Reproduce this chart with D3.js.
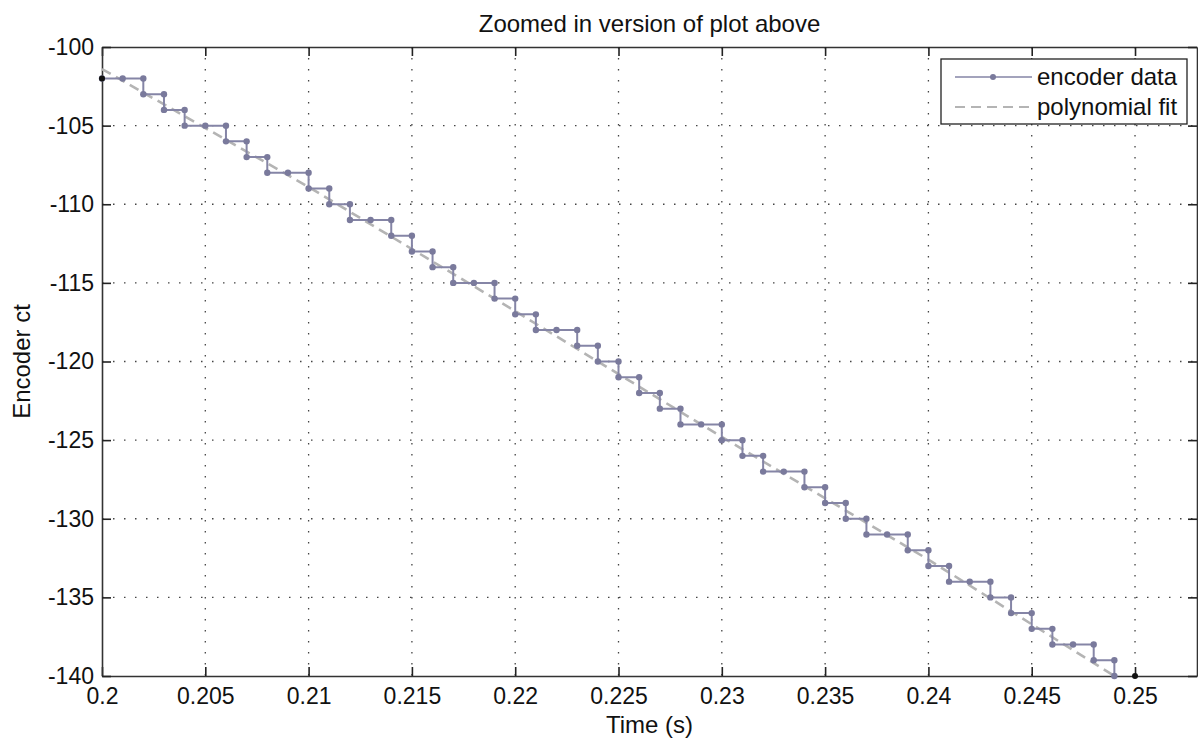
<!DOCTYPE html>
<html>
<head>
<meta charset="utf-8">
<script src="https://cdn.jsdelivr.net/npm/d3@7"></script>
<style>
  body { margin: 0; background: #fff; }
  svg { font-family: "Liberation Sans", Arial, sans-serif; }
</style>
</head>
<body>
<div id="chart"></div>
<script>
// data (one encoder sample per ms)
const times = [0.200, 0.201, 0.202, 0.203, 0.204, 0.205, 0.206, 0.207, 0.208, 0.209,
  0.210, 0.211, 0.212, 0.213, 0.214, 0.215, 0.216, 0.217, 0.218, 0.219,
  0.220, 0.221, 0.222, 0.223, 0.224, 0.225, 0.226, 0.227, 0.228, 0.229,
  0.230, 0.231, 0.232, 0.233, 0.234, 0.235, 0.236, 0.237, 0.238, 0.239,
  0.240, 0.241, 0.242, 0.243, 0.244, 0.245, 0.246, 0.247, 0.248, 0.249];
const counts = [-102, -102, -103, -104, -105, -105, -106, -107, -108, -108,
  -109, -110, -111, -111, -112, -113, -114, -115, -115, -116,
  -117, -118, -118, -119, -120, -121, -122, -123, -124, -124,
  -125, -126, -127, -127, -128, -129, -130, -131, -131, -132,
  -133, -134, -134, -135, -136, -137, -138, -138, -139, -140];

// dashed fit line
const fitTimes = [0.200, 0.210, 0.220, 0.230, 0.240, 0.249];
const fitCounts = [-101.4, -108.9, -116.8, -124.8, -132.6, -140.0];

// black end dots
const endTimes = [0.200, 0.250];
const endCounts = [-102, -140];

const xTicks = [0.2, 0.205, 0.21, 0.215, 0.22, 0.225, 0.23, 0.235, 0.24, 0.245, 0.25];
const xTickLabels = ["0.2", "0.205", "0.21", "0.215", "0.22", "0.225", "0.23", "0.235", "0.24", "0.245", "0.25"];
const yTicks = [-140, -135, -130, -125, -120, -115, -110, -105, -100];

const width = 1198, height = 746;
const margin = { top: 47, right: 1, bottom: 70, left: 102 };
const iw = width - margin.left - margin.right;
const ih = height - margin.top - margin.bottom;

const svg = d3.select("#chart").append("svg")
  .attr("width", width)
  .attr("height", height);

const g = svg.append("g")
  .attr("transform", `translate(${margin.left},${margin.top})`);

const x = d3.scaleLinear().domain([0.2, 0.253]).range([0, iw]);
const y = d3.scaleLinear().domain([-140, -100]).range([ih, 0]);

// grid
g.append("g").selectAll("line").data(xTicks.slice(1)).enter().append("line")
  .attr("x1", d => x(d)).attr("x2", d => x(d))
  .attr("y1", 0).attr("y2", ih)
  .attr("stroke", "#444").attr("stroke-width", 1.3)
  .attr("stroke-dasharray", "1.5,9.5");
g.append("g").selectAll("line").data(yTicks.slice(1, -1)).enter().append("line")
  .attr("x1", 0).attr("x2", iw)
  .attr("y1", d => y(d)).attr("y2", d => y(d))
  .attr("stroke", "#444").attr("stroke-width", 1.3)
  .attr("stroke-dasharray", "1.5,9.5");

// axes with inward ticks
const fmt = d => xTickLabels[xTicks.indexOf(d)];
const xAxis = g.append("g").attr("transform", `translate(0,${ih})`)
  .call(d3.axisBottom(x).tickValues(xTicks).tickFormat(fmt).tickSizeInner(-9).tickSizeOuter(0).tickPadding(12));
const xAxisTop = g.append("g")
  .call(d3.axisTop(x).tickValues(xTicks).tickFormat("").tickSizeInner(-9).tickSizeOuter(0));
const yAxis = g.append("g")
  .call(d3.axisLeft(y).tickValues(yTicks).tickFormat(d => String(d)).tickSizeInner(-9).tickSizeOuter(0).tickPadding(8));
const yAxisRight = g.append("g").attr("transform", `translate(${iw},0)`)
  .call(d3.axisRight(y).tickValues(yTicks).tickFormat("").tickSizeInner(-9).tickSizeOuter(0));

[xAxis, xAxisTop, yAxis, yAxisRight].forEach(a => {
  a.select(".domain").attr("stroke", "#333").attr("stroke-width", 1.6);
  a.selectAll(".tick line").attr("stroke", "#222").attr("stroke-width", 1.6);
  a.selectAll("text").attr("font-size", 23).attr("fill", "#111")
    .style("font-family", "'Liberation Sans', Arial, sans-serif");
});

// fit line
const fitLine = d3.line().x((d, i) => x(fitTimes[i])).y(d => y(d));
g.append("path").datum(fitCounts)
  .attr("d", fitLine)
  .attr("fill", "none")
  .attr("stroke", "#b4b4b4")
  .attr("stroke-width", 2.6)
  .attr("stroke-dasharray", "10,6");

// encoder data as stairs with a marker at every corner
const pts = [];
counts.forEach((c, i) => {
  if (i > 0 && c !== counts[i - 1]) pts.push([times[i], counts[i - 1]]);
  pts.push([times[i], c]);
});
const encColor = "#8585a6";
g.append("path").datum(pts)
  .attr("d", d3.line().x(d => x(d[0])).y(d => y(d[1])))
  .attr("fill", "none")
  .attr("stroke", encColor)
  .attr("stroke-width", 2);
g.append("g").selectAll("circle").data(pts).enter().append("circle")
  .attr("cx", d => x(d[0])).attr("cy", d => y(d[1]))
  .attr("r", 3.2).attr("fill", "#7a7a9c");

g.append("g").selectAll("circle").data(endCounts).enter().append("circle")
  .attr("cx", (d, i) => x(endTimes[i])).attr("cy", d => y(d))
  .attr("r", 3).attr("fill", "#111");

// legend
const lg = svg.append("g").attr("transform", "translate(941,59)");
lg.append("rect").attr("width", 246).attr("height", 65)
  .attr("fill", "#fff").attr("stroke", "#222").attr("stroke-width", 1.3);
lg.append("line").attr("x1", 14).attr("x2", 91).attr("y1", 18).attr("y2", 18)
  .attr("stroke", encColor).attr("stroke-width", 1.4);
lg.append("circle").attr("cx", 52).attr("cy", 18).attr("r", 3).attr("fill", "#7a7a9c");
lg.append("line").attr("x1", 14).attr("x2", 91).attr("y1", 48).attr("y2", 48)
  .attr("stroke", "#b4b4b4").attr("stroke-width", 2.2).attr("stroke-dasharray", "10,6");
lg.append("text").attr("x", 96).attr("y", 26).attr("font-size", 24).attr("fill", "#111").text("encoder data");
lg.append("text").attr("x", 96).attr("y", 56).attr("font-size", 24).attr("fill", "#111").text("polynomial fit");

// title and axis labels
svg.append("text").attr("x", margin.left + iw / 2).attr("y", 32)
  .attr("text-anchor", "middle").attr("font-size", 24).attr("fill", "#111")
  .text("Zoomed in version of plot above");
svg.append("text").attr("x", margin.left + iw / 2).attr("y", 733)
  .attr("text-anchor", "middle").attr("font-size", 24).attr("fill", "#111")
  .text("Time (s)");
svg.append("text")
  .attr("transform", `translate(30,${margin.top + ih / 2}) rotate(-90)`)
  .attr("text-anchor", "middle").attr("font-size", 24).attr("fill", "#111")
  .text("Encoder ct");
</script>
</body>
</html>
